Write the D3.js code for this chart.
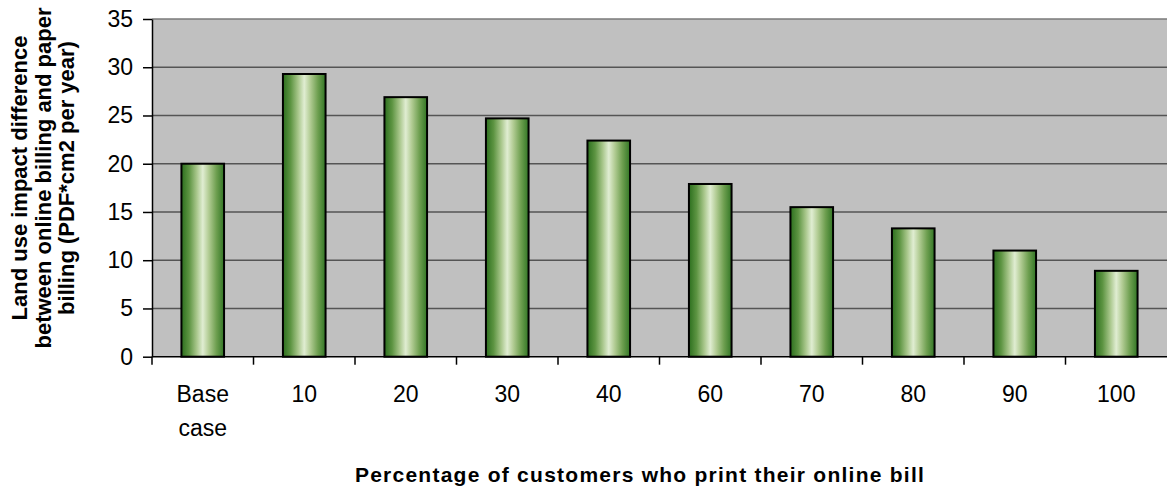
<!DOCTYPE html>
<html>
<head>
<meta charset="utf-8">
<script src="https://cdn.jsdelivr.net/npm/d3@7"></script>
<style>
  html, body { margin: 0; padding: 0; background: #fff; }
  svg { display: block; font-family: "Liberation Sans", Arial, sans-serif; }
</style>
</head>
<body>
<svg id="chart" width="1168" height="491"></svg>
<script>
// Categories (share of customers who print their online bill)
const categories = ["Base case", "10", "20", "30", "40", "60", "70", "80", "90", "100"];
// Land use impact difference, PDF*cm2 per year
const values = [20.0, 29.3, 26.9, 24.7, 22.4, 17.9, 15.5, 13.3, 11.0, 8.9];
const yTicks = [0, 5, 10, 15, 20, 25, 30, 35];
const yTitleLines = ["Land use impact difference", "between online billing and paper", "billing (PDF*cm2 per year)"];
const xTitle = "Percentage of customers who print their online bill";

const plot = { left: 152, right: 1167, top: 19, bottom: 356.7 };

const svg = d3.select("#chart");

const defs = svg.append("defs");
const grad = defs.append("linearGradient")
  .attr("id", "barFill").attr("x1", "0%").attr("x2", "100%").attr("y1", "0%").attr("y2", "0%");
[
  [0, "#2c6f1e"], [0.18, "#5d9442"], [0.36, "#a9c78c"], [0.5, "#e0edd2"],
  [0.64, "#b2cc94"], [0.82, "#6e9f50"], [1, "#327625"]
].forEach(([o, c]) => grad.append("stop").attr("offset", o).attr("stop-color", c));

const x = d3.scaleBand().domain(categories).range([plot.left, plot.right]).padding(0);
const y = d3.scaleLinear().domain([0, 35]).range([plot.bottom, plot.top]);

// plot background
svg.append("rect")
  .attr("x", plot.left).attr("y", plot.top)
  .attr("width", plot.right - plot.left).attr("height", plot.bottom - plot.top)
  .attr("fill", "#c0c0c0");

// horizontal gridlines
svg.append("g").selectAll("line").data(yTicks.filter(t => t > 0)).join("line")
  .attr("x1", plot.left).attr("x2", plot.right)
  .attr("y1", d => y(d)).attr("y2", d => y(d))
  .attr("stroke", d => d === 35 ? "#7a7a7a" : "#555").attr("stroke-width", 1.4);

// bars
const barFrac = 0.42;
svg.append("g").selectAll("rect").data(values).join("rect")
  .attr("x", (d, i) => x(categories[i]) + x.bandwidth() * (1 - barFrac) / 2)
  .attr("width", x.bandwidth() * barFrac)
  .attr("y", d => y(d))
  .attr("height", d => y(0) - y(d))
  .attr("fill", "url(#barFill)")
  .attr("stroke", "#000").attr("stroke-width", 2);

// y axis
const yAxis = svg.append("g")
  .attr("transform", `translate(${plot.left},0)`)
  .call(d3.axisLeft(y).tickValues(yTicks).tickSize(9).tickPadding(10).tickSizeOuter(0));
yAxis.select(".domain").attr("stroke", "#000").attr("stroke-width", 1.5);
yAxis.selectAll(".tick line").attr("stroke", "#000").attr("stroke-width", 1.5);
yAxis.selectAll(".tick text")
  .attr("font-family", "Liberation Sans, Arial, sans-serif")
  .attr("font-size", 23).attr("fill", "#000");

// x axis line
svg.append("line")
  .attr("x1", plot.left).attr("x2", plot.right)
  .attr("y1", y(0)).attr("y2", y(0))
  .attr("stroke", "#000").attr("stroke-width", 1.5);

// x ticks at category boundaries
svg.append("g").selectAll("line").data(categories.map(c => x(c))).join("line")
  .attr("x1", d => d).attr("x2", d => d)
  .attr("y1", y(0)).attr("y2", y(0) + 8)
  .attr("stroke", "#000").attr("stroke-width", 1.5);

// x tick labels, wrapped on spaces
svg.append("g").selectAll("text").data(categories).join("text")
  .attr("y", 402)
  .attr("text-anchor", "middle")
  .attr("font-size", 23).attr("fill", "#000")
  .each(function(d) {
    const t = d3.select(this);
    d.split(" ").forEach((p, i) => t.append("tspan")
      .attr("x", x(d) + x.bandwidth() / 2)
      .attr("dy", i === 0 ? 0 : 34)
      .text(p));
  });

// x axis title
svg.append("text")
  .attr("x", 640).attr("y", 481.5)
  .attr("text-anchor", "middle")
  .attr("font-size", 21).attr("font-weight", "bold")
  .attr("letter-spacing", 1.25)
  .text(xTitle);

// y axis title
const yt = svg.append("text")
  .attr("transform", "translate(0,178) rotate(-90)")
  .attr("text-anchor", "middle")
  .attr("font-size", 22).attr("font-weight", "bold");
yTitleLines.forEach((l, i) => yt.append("tspan")
  .attr("x", 0).attr("y", 27 + i * 23.5).text(l));
</script>
</body>
</html>
